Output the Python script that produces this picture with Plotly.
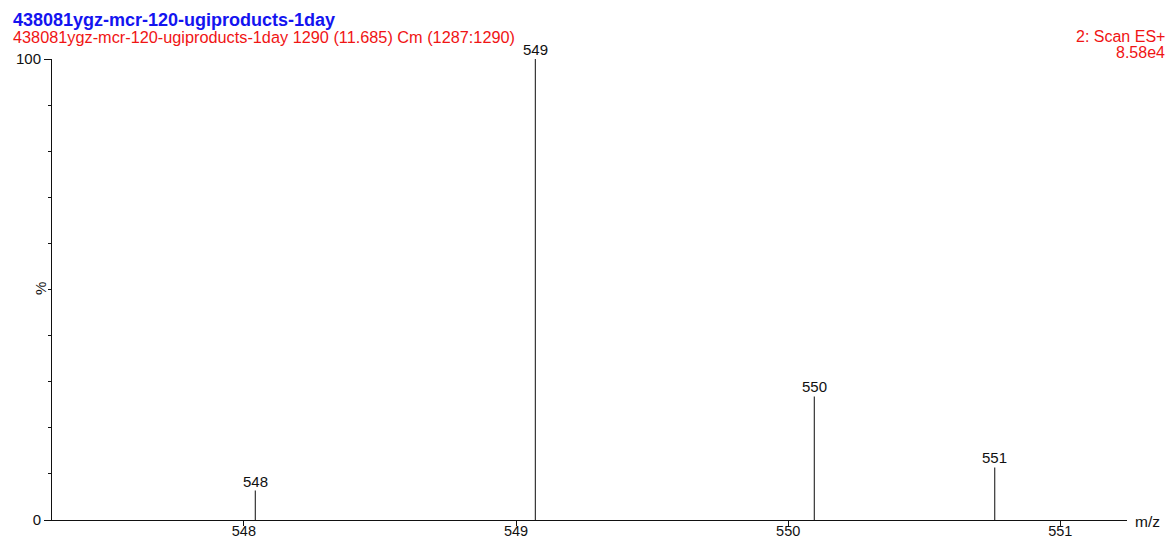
import plotly.graph_objects as go

# Centroided peaks of the combined scan (m/z, relative intensity %)
mz = [548.042, 549.071, 550.096, 550.759]
intensity = [6.4, 100.0, 26.8, 11.4]

x_ticks = [548, 549, 550, 551]
y_ticks = [0, 100]

title_main = "438081ygz-mcr-120-ugiproducts-1day"
title_scan = "438081ygz-mcr-120-ugiproducts-1day 1290 (11.685) Cm (1287:1290)"
scan_fn = "2: Scan ES+"
base_peak = "8.58e4"

X_RANGE = [547.295, 551.245]
W, H = 1167, 539
ML, MR, MT, MB = 52, 40, 59, 19
PW, PH = W - ML - MR, H - MT - MB

FONT = "Liberation Sans, Arial, sans-serif"
BLUE = "#1414f0"
RED = "#f01414"
INK = "#111111"


def px_x(p):
    return (p - ML) / PW


def px_y(p):
    return (H - MB - p) / PH


# stick spectrum: one vertical segment per peak
xs, ys = [], []
for m, i in zip(mz, intensity):
    xs += [m, m, None]
    ys += [0, i, None]

fig = go.Figure()
fig.add_trace(go.Scatter(x=xs, y=ys, mode="lines",
                         line=dict(color="#222222", width=1.1),
                         hoverinfo="skip", showlegend=False))

annotations = []
for m, i in zip(mz, intensity):
    annotations.append(dict(x=m, y=i, xref="x", yref="y", text=f"{round(m)}",
                            showarrow=False, yanchor="bottom", yshift=-1,
                            font=dict(family=FONT, size=15, color=INK)))

annotations += [
    dict(x=px_x(11), y=px_y(20), xref="paper", yref="paper", text=f"<b>{title_main}</b>",
         showarrow=False, xanchor="left", yanchor="middle",
         font=dict(family=FONT, size=18, color=BLUE)),
    dict(x=px_x(11), y=px_y(37.5), xref="paper", yref="paper", text=title_scan,
         showarrow=False, xanchor="left", yanchor="middle",
         font=dict(family=FONT, size=16.3, color=RED)),
    dict(x=px_x(1167), y=px_y(37), xref="paper", yref="paper", text=scan_fn,
         showarrow=False, xanchor="right", yanchor="middle",
         font=dict(family=FONT, size=16, color=RED)),
    dict(x=px_x(1167), y=px_y(52), xref="paper", yref="paper", text=base_peak,
         showarrow=False, xanchor="right", yanchor="middle",
         font=dict(family=FONT, size=16, color=RED)),
    dict(x=px_x(1133), y=px_y(521), xref="paper", yref="paper", text="m/z",
         showarrow=False, xanchor="left", yanchor="middle",
         font=dict(family=FONT, size=15.5, color=INK)),
    dict(x=px_x(40), y=px_y(289), xref="paper", yref="paper", text="%",
         showarrow=False, textangle=-90, xanchor="center", yanchor="middle",
         font=dict(family=FONT, size=15, color=INK)),
]

fig.update_layout(
    template="none",
    width=W, height=H,
    margin=dict(l=ML, r=MR, t=MT, b=MB, pad=0, autoexpand=False),
    paper_bgcolor="white", plot_bgcolor="white",
    font=dict(family=FONT, size=15, color=INK),
    annotations=annotations,
    xaxis=dict(range=X_RANGE, tickvals=x_ticks, ticktext=[str(t) for t in x_ticks],
               automargin=False, showgrid=False, zeroline=False, showline=True,
               linecolor=INK, linewidth=1, ticks="outside", ticklen=5, tickwidth=1,
               tickcolor=INK, ticklabelstandoff=-7,
               tickfont=dict(family=FONT, size=14.5, color=INK)),
    yaxis=dict(range=[0, 100], tickvals=y_ticks, ticktext=[str(t) for t in y_ticks],
               automargin=False, showgrid=False, zeroline=False, showline=True,
               linecolor=INK, linewidth=1, ticks="outside", ticklen=7, tickwidth=1,
               tickcolor=INK, tickfont=dict(family=FONT, size=15, color=INK),
               minor=dict(dtick=10, ticks="outside", ticklen=3, tickcolor=INK,
                          showgrid=False)),
)

fig.write_html("out.html")
